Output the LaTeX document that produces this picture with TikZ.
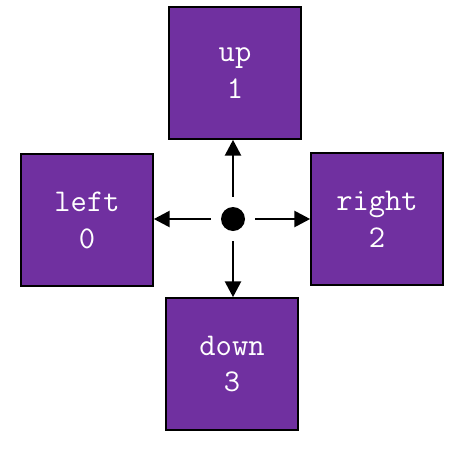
\documentclass[tikz,border=0pt]{standalone}
\usepackage{tikz}
\usetikzlibrary{arrows.meta}
\usetikzlibrary{positioning}
\definecolor{boxpurple}{RGB}{112,48,160}
\tikzstyle{dirbox}=[rectangle,draw=black,line width=0.9pt,fill=boxpurple,minimum size=2.64cm,inner sep=0pt,text=white,align=center,font=\ttfamily\fontsize{18}{21}\selectfont]
\tikzstyle{move}=[line width=1.6pt,-{Triangle[length=9pt,width=9pt]}]

\begin{document}
\begin{tikzpicture}[x=0.02cm,y=-0.02cm]
\useasboundingbox (0,0) rectangle (476,450);
%centre
\node[circle,fill=black,minimum size=0.48cm,inner sep=0pt] (dot) at (233,219) {};

%boxes
\node[dirbox] (bup) at (235,73) {up\\1};
\node[dirbox] (bleft) at (87,220) {left\\0};
\node[dirbox] (bright) at (377,219) {right\\2};
\node[dirbox] (bdown) at (232,364) {down\\3};

%arrows
\draw[move] (dot.north) ++(0,-10) -- (dot.north |- bup.south);
\draw[move] (dot.west) ++(-10,0) -- (bleft.east |- dot.west);
\draw[move] (dot.east) ++(10,0) -- (bright.west |- dot.east);
\draw[move] (dot.south) ++(0,10) -- (dot.south |- bdown.north);
\end{tikzpicture}
\end{document}
